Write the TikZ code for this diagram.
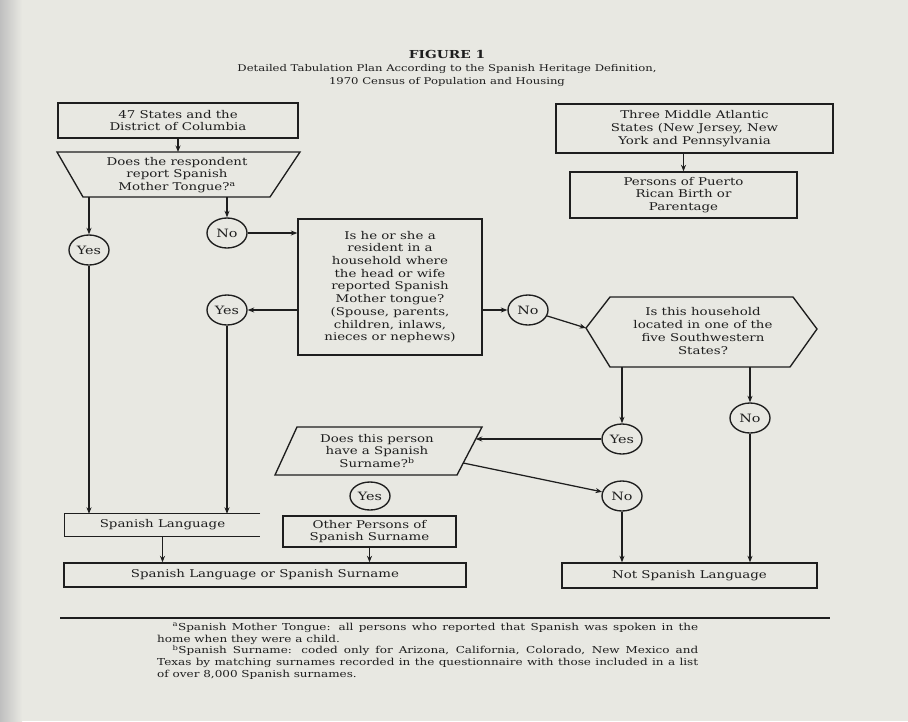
\documentclass[tikz,border=0pt]{standalone}
\usepackage{fontspec}
\setmainfont{DejaVu Serif}[FakeStretch=1.25]
\usetikzlibrary{arrows.meta,shapes.geometric,calc}
\definecolor{paper}{RGB}{232,232,226}
\definecolor{ink}{RGB}{30,30,30}
\begin{document}
\begin{tikzpicture}[x=1pt,y=-1pt,
  box/.style={draw=ink,line width=1.35pt,inner sep=0pt,align=center,font=\fontsize{10.7}{12.7}\selectfont,text=ink},
  txt/.style={inner sep=0pt,align=center,font=\fontsize{10.7}{12.7}\selectfont,text=ink},
  ans/.style={draw=ink,line width=1.35pt,ellipse,inner sep=0pt,minimum width=40pt,minimum height=30pt,font=\fontsize{11.5}{12}\selectfont,text=ink},
  arr/.style={draw=ink,line width=1.25pt,-{Stealth[length=6.5pt,width=5pt]}},
  outl/.style={draw=ink,line width=1.35pt},
]
\fill[paper] (0,0) rectangle (908,721);
\shade[left color=black!25,right color=paper] (0,0) rectangle (22,721);
\useasboundingbox (0,0) rectangle (908,721);

% title
\node[txt,font=\fontsize{9.3}{13}\selectfont] (title) at (447,68)
  {{\fontsize{11}{13}\selectfont\textbf{FIGURE 1}}\\Detailed Tabulation Plan According to the Spanish Heritage Definition,\\1970 Census of Population and Housing};

% left column top
\node[box,minimum width=240pt,minimum height=35pt] (states) at (178,120.5)
  {47 States and the\\District of Columbia};
\coordinate (q1tl) at (57,152);
\coordinate (q1tr) at (300,152);
\coordinate (q1br) at (270,197);
\coordinate (q1bl) at (83,197);
\draw[outl] (q1tl) -- (q1tr) -- (q1br) -- (q1bl) -- cycle;
\node[txt] (q1) at (177,175) {Does the respondent\\report Spanish\\Mother Tongue?\textsuperscript{a}};
\draw[arr] (states.south) -- (states.south |- q1tl);

\node[ans] (yes1) at (89,250) {Yes};
\node[ans] (no1) at (227,233) {No};
\draw[arr] (yes1 |- q1bl) -- (yes1);
\draw[arr] (no1 |- q1bl) -- (no1);

% big question box
\node[box,minimum width=184pt,minimum height=136pt] (q2) at (390,287)
  {Is he or she a\\resident in a\\household where\\the head or wife\\reported Spanish\\Mother tongue?\\(Spouse, parents,\\children, inlaws,\\nieces or nephews)};
\draw[arr] (no1.east) -- (no1.east -| q2.west);
\node[ans] (yes2) at (227,310) {Yes};
\node[ans] (no2) at (528,310) {No};
\draw[arr] (yes2.east -| q2.west) -- (yes2.east);
\draw[arr] (no2.west -| q2.east) -- (no2.west);

% right column top
\node[box,minimum width=277pt,minimum height=49pt] (three) at (694.5,128.5)
  {Three Middle Atlantic\\States (New Jersey, New\\York and Pennsylvania};
\node[box,minimum width=227pt,minimum height=46pt] (pr) at (683.5,195)
  {Persons of Puerto\\Rican Birth or\\Parentage};
\draw[arr] (pr.north |- three.south) -- (pr.north);

% hexagon
\coordinate (q3w) at (586,328);
\coordinate (q3nw) at (610,297);
\coordinate (q3ne) at (793,297);
\coordinate (q3e) at (817,329);
\coordinate (q3se) at (790,367);
\coordinate (q3sw) at (610,367);
\draw[outl] (q3w) -- (q3nw) -- (q3ne) -- (q3e) -- (q3se) -- (q3sw) -- cycle;
\node[txt] (q3) at (703,331) {Is this household\\located in one of the\\five Southwestern\\States?};
\draw[arr] (no2) -- (q3w);

\node[ans] (yes3) at (622,439) {Yes};
\node[ans] (no3) at (750,418) {No};
\draw[arr] (yes3 |- q3sw) -- (yes3);
\draw[arr] (no3 |- q3sw) -- (no3);

% parallelogram
\coordinate (q4tl) at (297,427);
\coordinate (q4tr) at (482,427);
\coordinate (q4br) at (457,475);
\coordinate (q4bl) at (275,475);
\draw[outl] (q4tl) -- (q4tr) -- (q4br) -- (q4bl) -- cycle;
\node[txt] (q4) at (377,451) {Does this person\\have a Spanish\\Surname?\textsuperscript{b}};
\path (q4tr) -- (q4br) coordinate[pos=0.25] (q4r1) coordinate[pos=0.75] (q4r2);
\draw[arr] (yes3.west) -- (q4r1);
\node[ans] (no4) at (622,496) {No};
\draw[arr] (q4r2) -- (no4);
\node[ans,minimum height=28pt] (yes4) at (370,496) {Yes};

% bottom boxes
\node[txt,minimum width=195pt,minimum height=22pt] (spl) at (162.5,525) {Spanish Language};
\draw[outl] (spl.north east) -- (spl.north west) -- (spl.south west) -- (spl.south east);
\draw[arr] (yes1) -- (yes1 |- spl.north);
\draw[arr] (yes2) -- (yes2 |- spl.north);
\node[box,minimum width=173pt,minimum height=31pt] (other) at (369.5,531.5)
  {Other Persons of\\Spanish Surname};
\node[box,minimum width=402pt,minimum height=24pt] (slss) at (265,575)
  {Spanish Language or Spanish Surname};
\draw[arr] (spl.south) -- (spl.south |- slss.north);
\draw[arr] (other.south) -- (other.south |- slss.north);
\node[box,minimum width=255pt,minimum height=25pt] (notsp) at (689.5,575.5)
  {Not Spanish Language};
\draw[arr] (no4) -- (no4 |- notsp.north);
\draw[arr] (no3) -- (no3 |- notsp.north);

% footnotes
\coordinate (rulel) at (60,618);
\coordinate (ruler) at (830,618);
\draw[ink,line width=1.9pt] (rulel) -- (ruler);
\node[anchor=north west,inner sep=0pt,text=ink,font=\fontsize{9.6}{11.7}\selectfont] (fn) at (157,623)
  {\parbox{541pt}{\setlength{\parindent}{1.6em}\setlength{\parskip}{0pt}%
  \textsuperscript{a}Spanish Mother Tongue: all persons who reported that Spanish was spoken in the\linebreak home when they were a child.\par
  \textsuperscript{b}Spanish Surname: coded only for Arizona, California, Colorado, New Mexico and\linebreak Texas by matching surnames recorded in the questionnaire with those included in a list\linebreak of over 8,000 Spanish surnames.}};
\end{tikzpicture}
\end{document}
